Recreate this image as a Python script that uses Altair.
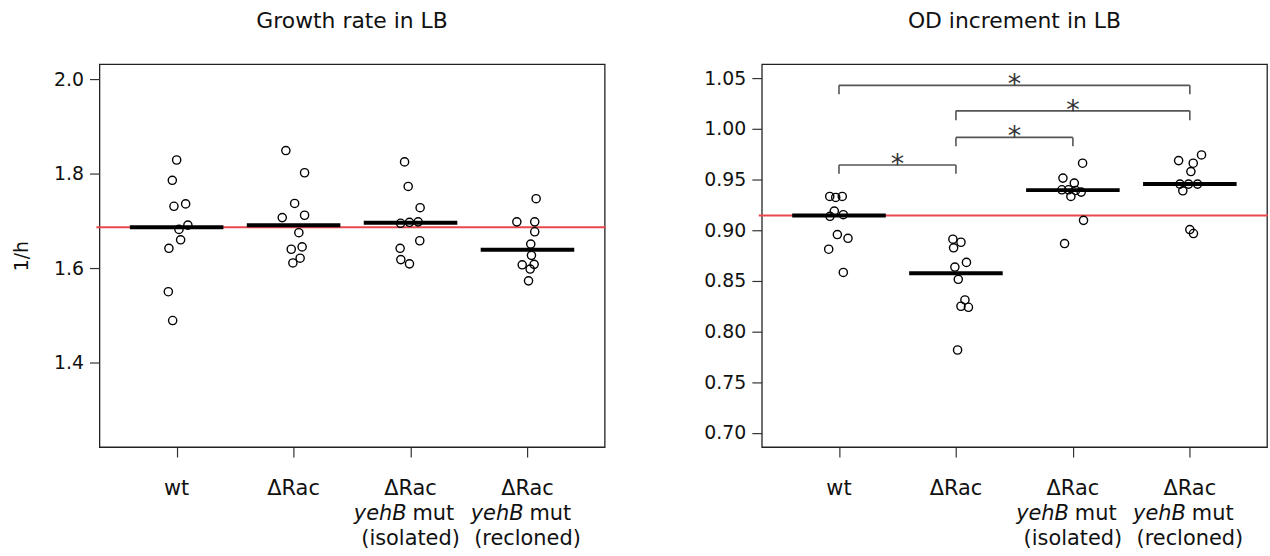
import altair as alt
import pandas as pd

# ---------------- data ----------------
group_ids = [1, 2, 3, 4]
label_line1 = ["wt", "ΔRac", "ΔRac", "ΔRac"]
label_line2_italic = ["", "", "yehB", "yehB"]
label_line2_plain = ["", "", "mut", "mut"]
label_line3 = ["", "", "(isolated)", "(recloned)"]

# Growth rate in LB (1/h), 10 replicates per strain, with horizontal jitter (category units)
growth_wt = [1.829, 1.786, 1.731, 1.736, 1.691, 1.682, 1.660, 1.642, 1.550, 1.489]
growth_wt_jit = [0.000, -0.037, -0.023, 0.077, 0.096, 0.020, 0.034, -0.066, -0.071, -0.034]
growth_drac = [1.849, 1.802, 1.737, 1.712, 1.707, 1.675, 1.645, 1.640, 1.621, 1.611]
growth_drac_jit = [-0.066, 0.094, 0.009, 0.094, -0.097, 0.045, 0.073, -0.020, 0.056, -0.006]
growth_iso = [1.825, 1.773, 1.728, 1.695, 1.697, 1.698, 1.658, 1.642, 1.618, 1.609]
growth_iso_jit = [-0.051, -0.020, 0.082, -0.085, -0.009, 0.065, 0.079, -0.089, -0.083, -0.009]
growth_rec = [1.747, 1.698, 1.698, 1.677, 1.651, 1.627, 1.607, 1.608, 1.598, 1.573]
growth_rec_jit = [0.074, -0.091, 0.062, 0.062, 0.028, 0.034, -0.045, 0.057, 0.023, 0.009]

# OD increment in LB
od_wt = [0.9334, 0.9324, 0.9334, 0.9190, 0.9138, 0.9154, 0.8958, 0.8921, 0.8813, 0.8584]
od_wt_jit = [-0.079, -0.028, 0.028, -0.040, -0.077, 0.037, -0.014, 0.077, -0.088, 0.037]
od_drac = [0.8912, 0.8882, 0.8827, 0.8683, 0.8637, 0.8516, 0.8312, 0.8250, 0.8240, 0.7818]
od_drac_jit = [-0.026, 0.043, -0.020, 0.090, -0.009, 0.020, 0.077, 0.043, 0.107, 0.014]
od_iso = [0.9662, 0.9515, 0.9466, 0.9400, 0.9400, 0.9393, 0.9377, 0.9334, 0.9098, 0.8869]
od_iso_jit = [0.083, -0.085, 0.012, -0.094, -0.037, 0.023, 0.071, -0.017, 0.091, -0.071]
od_rec = [0.9744, 0.9688, 0.9662, 0.9580, 0.9456, 0.9456, 0.9456, 0.9390, 0.9007, 0.8968]
od_rec_jit = [0.100, -0.096, 0.029, 0.009, -0.085, -0.011, 0.066, -0.060, 0.000, 0.031]

# significance brackets (OD panel): from group, to group, bar level, leg end
bracket_from = [1, 2, 2, 1]
bracket_to = [4, 4, 3, 2]
bracket_top = [1.0431, 1.0179, 0.9917, 0.9645]
bracket_leg = [1.0343, 1.0087, 0.9829, 0.9557]

# ---------------- styling ----------------
FONT = "DejaVu Sans"
RED = "#e8474d"
W, H = 508, 385
BAR_HALF = 0.4


def make_df(series, jits):
    rows = []
    for g, vals, jit in zip(group_ids, series, jits):
        for v, j in zip(vals, jit):
            rows.append({"g": g, "value": v, "jit": j})
    return pd.DataFrame(rows)


growth_df = make_df([growth_wt, growth_drac, growth_iso, growth_rec],
                    [growth_wt_jit, growth_drac_jit, growth_iso_jit, growth_rec_jit])
od_df = make_df([od_wt, od_drac, od_iso, od_rec],
                [od_wt_jit, od_drac_jit, od_iso_jit, od_rec_jit])

labels_df = pd.DataFrame({"g": group_ids, "l1": label_line1, "l2i": label_line2_italic,
                          "l2p": label_line2_plain, "l3": label_line3})

XSCALE = alt.Scale(domain=[0.34, 4.66], nice=False, zero=False)


def panel(df, title, ydomain, yticks, yfmt, ytitle, brackets=False):
    yscale = alt.Scale(domain=ydomain, nice=False, zero=False)
    yaxis = alt.Axis(values=yticks, format=yfmt, tickSize=10, labelPadding=6, domain=False,
                     grid=False, tickColor="#333", tickWidth=1.2, labelFontSize=19,
                     labelColor="#111", titleFontSize=19, titleFontWeight="normal",
                     titleColor="#111", titleX=-78, titleY=H / 2, titleAngle=270,
                     titleBaseline="middle", titleAlign="center")
    xaxis = alt.Axis(values=group_ids, labels=False, tickSize=10, domain=False, grid=False,
                     tickColor="#333", tickWidth=1.2)
    base = alt.Chart(df)

    red = base.transform_filter("datum.g == 1").transform_aggregate(
        ref="median(value)").mark_rule(color=RED, strokeWidth=2).encode(
        y=alt.Y("ref:Q", scale=yscale, axis=yaxis, title=ytitle),
        x=alt.value(-3), x2=alt.value(W + 1))

    pts = base.transform_calculate(xpos="datum.g + datum.jit").mark_point(
        shape="circle", filled=False, color="black", size=68, strokeWidth=1.4, opacity=1).encode(
        x=alt.X("xpos:Q", scale=XSCALE, axis=xaxis, title=None),
        y=alt.Y("value:Q", scale=yscale, title=ytitle))

    med = base.transform_aggregate(med="median(value)", groupby=["g"]).transform_calculate(
        x1=f"datum.g - {BAR_HALF}", x2=f"datum.g + {BAR_HALF}").mark_rule(
        color="black", strokeWidth=4, strokeCap="butt").encode(
        x=alt.X("x1:Q", scale=XSCALE, title=None), x2="x2:Q",
        y=alt.Y("med:Q", scale=yscale, title=ytitle))

    lab = alt.Chart(labels_df)
    t1 = lab.mark_text(font=FONT, fontSize=21, baseline="alphabetic", color="#111").encode(
        x=alt.X("g:Q", scale=XSCALE, title=None), y=alt.value(H + 48), text="l1:N")
    t2a = lab.mark_text(font=FONT, fontSize=21, fontStyle="italic", align="right", dx=-4,
                        baseline="alphabetic", color="#111").encode(
        x=alt.X("g:Q", scale=XSCALE, title=None), y=alt.value(H + 73), text="l2i:N")
    t2b = lab.mark_text(font=FONT, fontSize=21, align="left", dx=2,
                        baseline="alphabetic", color="#111").encode(
        x=alt.X("g:Q", scale=XSCALE, title=None), y=alt.value(H + 73), text="l2p:N")
    t3 = lab.mark_text(font=FONT, fontSize=21, baseline="alphabetic", color="#111").encode(
        x=alt.X("g:Q", scale=XSCALE, title=None), y=alt.value(H + 98), text="l3:N")

    layers = [red, pts, med]
    if brackets:
        bdf = pd.DataFrame({"a": bracket_from, "b": bracket_to, "top": bracket_top,
                            "leg": bracket_leg})
        legs = pd.DataFrame({
            "x": bracket_from + bracket_to,
            "top": bracket_top + bracket_top,
            "leg": bracket_leg + bracket_leg})
        hb = alt.Chart(bdf).mark_rule(color="#555", strokeWidth=1.6).encode(
            x=alt.X("a:Q", scale=XSCALE, title=None), x2="b:Q",
            y=alt.Y("top:Q", scale=yscale, title=ytitle))
        vb = alt.Chart(legs).mark_rule(color="#555", strokeWidth=1.6).encode(
            x=alt.X("x:Q", scale=XSCALE, title=None),
            y=alt.Y("top:Q", scale=yscale, title=ytitle), y2="leg:Q")
        star = alt.Chart(bdf).transform_calculate(mid="(datum.a + datum.b) / 2").mark_text(
            text="*", font=FONT, fontSize=27, color="#333", baseline="alphabetic", dy=8).encode(
            x=alt.X("mid:Q", scale=XSCALE, title=None),
            y=alt.Y("top:Q", scale=yscale, title=ytitle))
        layers += [hb, vb, star]
    layers += [t1, t2a, t2b, t3]

    return alt.layer(*layers).properties(
        width=W, height=H,
        title=alt.TitleParams(title, font=FONT, fontSize=22, fontWeight="normal",
                              baseline="alphabetic", offset=14, anchor="middle", color="#111"))


left = panel(growth_df, "Growth rate in LB", [1.221, 2.032], [1.4, 1.6, 1.8, 2.0], ".1f", "1/h")
right = panel(od_df, "OD increment in LB", [0.686, 1.064],
              [0.70, 0.75, 0.80, 0.85, 0.90, 0.95, 1.00, 1.05], ".2f", None, brackets=True)

chart = alt.hconcat(left, right, spacing=96).properties(
    padding={"left": 12, "top": 8, "right": 0, "bottom": 0}
).configure(font=FONT).configure_view(stroke="#222", strokeWidth=1.3).configure_axis(
    labelFont=FONT, titleFont=FONT)

chart.save("out.html", embed_options={"renderer": "svg", "actions": False})
